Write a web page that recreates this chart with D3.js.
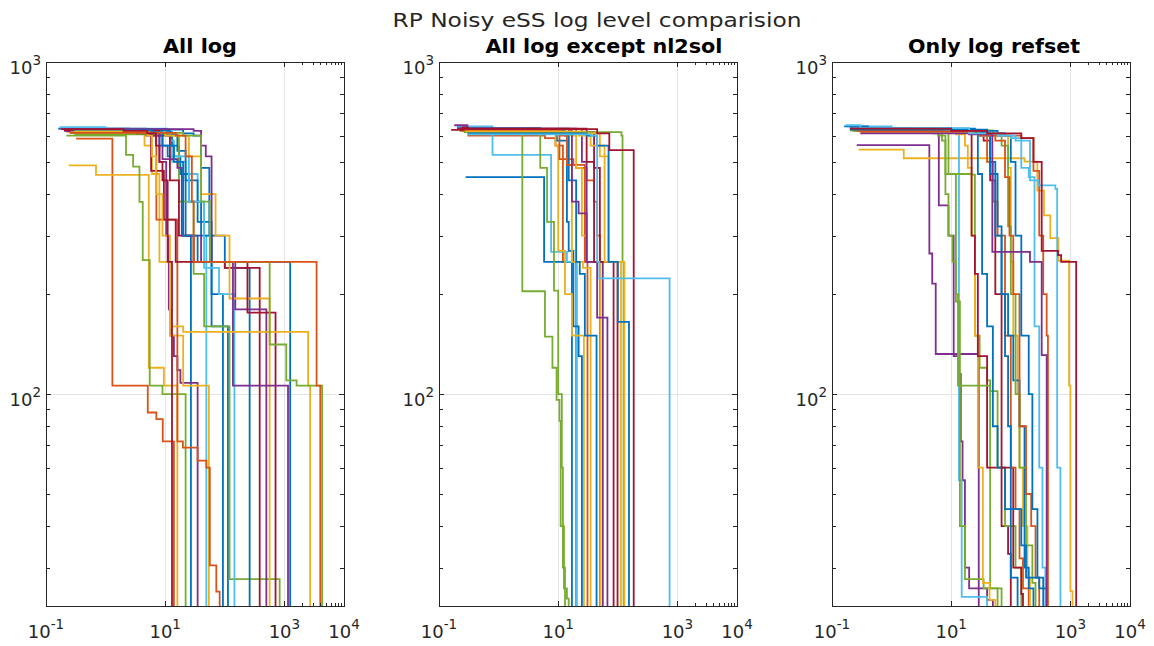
<!DOCTYPE html>
<html>
<head>
<meta charset="utf-8">
<script src="https://cdn.jsdelivr.net/npm/d3@7"></script>
<style>
  body { margin: 0; background: #fff; }
  text { font-family: "DejaVu Sans", Verdana, sans-serif; fill: #262626; }
</style>
</head>
<body>
<script>
// ---------------- data (time [s], objective value) ----------------
const mainTitle = "RP Noisy eSS log level comparision";
const panelTitles = ["All log", "All log except nl2sol", "Only log refset"];

const xMajorTicks = [0.1, 10, 1000, 10000];
const xMajorExp = ["-1", "1", "3", "4"];
const xMinorTicks = [2000, 3000, 4000, 5000, 6000, 7000, 8000, 9000];
const yMajorTicks = [100, 1000];
const yMajorExp = ["2", "3"];
const yMinorTicks = [30, 40, 50, 60, 70, 80, 90, 200, 300, 400, 500, 600, 700, 800, 900];
const xGrid = [10, 1000];
const yGrid = [100];

// c = colour index in the MATLAB colour order, pts = stair points [x, y]
const allLogSeries = [
  {c:1, pts:[[0.32,588],[1.3,106],[5.1,88],[7.1,84],[9.1,72],[14,10]]},
  {c:2, pts:[[0.24,488],[0.69,457],[5.3,120],[9.5,106],[16,10]]},
  {c:4, pts:[[0.22,600],[2.2,525],[2.9,484],[3.7,379],[4.2,253],[5.5,106],[9,100],[22,10]]},
  {c:0, pts:[[0.16,630],[2.5,625],[4.5,610],[8,560],[11,520],[18,460],[22,300],[27,10]]},
  {c:3, pts:[[0.17,630],[4.8,600],[8,500],[10.4,300],[11.5,180],[12.5,150],[14,130],[16,118],[18,108],[35,10]]},
  {c:5, pts:[[0.17,636],[1.0,630],[11,600],[13,501],[22,460],[35,380],[45,300],[49,10]]},
  {c:2, pts:[[0.2,622],[3,615],[4.5,560],[6,460],[8,250],[12,150],[20,106],[54,10]]},
  {c:1, pts:[[0.22,617],[7.1,335],[16,72],[19.8,69],[35,63],[49,60],[56,30.5],[72,25.4],[82,10]]},
  {c:0, pts:[[0.2,628],[10,615],[13,560],[17,460],[25,380],[40,300],[60,200],[93,10]]},
  {c:0, pts:[[0.25,624],[12,605],[16,540],[22,440],[35,330],[60,160],[113,10]]},
  {c:4, pts:[[0.3,605],[12,600],[17,380],[30,230],[45,160],[120,27.7],[833,10]]},
  {c:5, pts:[[0.2,625],[8,610],[12,580],[14,520],[25,380],[45,240],[80,200],[145,10]]},
  {c:0, pts:[[0.24,626],[20,610],[30,600],[40,480],[55,300],[100,240],[261,10]]},
  {c:6, pts:[[0.22,620],[8,600],[12,440],[17,300],[30,250],[100,240],[385,10]]},
  {c:3, pts:[[0.2,620],[6,600],[9,510],[16,480],[19,300],[40,250],[150,180],[498,10]]},
  {c:2, pts:[[0.26,615],[10,600],[25,520],[40,400],[70,300],[120,194],[566,10]]},
  {c:6, pts:[[0.2,624],[3.3,610],[5.8,470],[9.5,335],[15,250],[240,176],[710,10]]},
  {c:3, pts:[[0.19,628],[30,620],[40,560],[48,520],[60,250],[137,106],[1150,10]]},
  {c:0, pts:[[0.28,622],[6,615],[9,560],[14,500],[20,300],[35,250],[1250,10]]},
  {c:2, pts:[[0.3,618],[5,600],[6,520],[7,400],[9,300],[12,160],[20,154],[2500,106],[2700,10]]},
  {c:4, pts:[[0.25,612],[20,600],[40,380],[56,250],[566,141],[1075,110],[1600,106],[4300,10]]},
  {c:1, pts:[[0.25,612],[15,600],[22,520],[28,380],[30,250],[3470,106],[4000,10]]},
  {c:6, pts:[[0.18,628],[2,620],[5,610],[7,560],[8,500],[9,440],[11,250],[13,10]]}
];

const exceptNl2solSeries = [
  {c:1, pts:[[0.3,600],[6,590],[9,560],[12,250],[20,10]]},
  {c:0, pts:[[0.28,450],[5.8,250],[17,10]]},
  {c:5, pts:[[0.2,640],[0.79,525],[7.6,268],[14,250],[20.6,10]]},
  {c:4, pts:[[0.22,620],[2.5,204],[6,149],[8,120],[9.4,96],[10.5,83],[11,40],[12.5,26],[14,24.2],[15,10]]},
  {c:4, pts:[[0.25,625],[4,605],[5,480],[6.5,330],[8.5,205],[10,100],[11.5,60],[12,30],[13,10]]},
  {c:0, pts:[[0.2,632],[5,615],[9.5,580],[14,330],[15,270],[18,160],[22,130],[25,10]]},
  {c:2, pts:[[0.3,618],[8,610],[9,560],[10,270],[13,200],[17,150],[27,10]]},
  {c:1, pts:[[0.22,625],[3,615],[10.5,510],[18,490],[28,250],[31,10]]},
  {c:2, pts:[[0.24,628],[12,605],[15,490],[17,250],[26,240],[35,10]]},
  {c:0, pts:[[0.26,622],[13,600],[15,440],[20,250],[23,230],[28,150],[44,10]]},
  {c:1, pts:[[0.24,620],[10.8,600],[14,490],[20,480],[30,440],[40,380],[45,300],[50,10]]},
  {c:2, pts:[[0.28,615],[16,600],[20,480],[25,300],[30,250],[51,10]]},
  {c:3, pts:[[0.18,645],[0.3,630],[15,620],[17,380],[22,350],[30,250],[56,10]]},
  {c:3, pts:[[0.2,630],[20,610],[25,500],[30,250],[45,170],[67,10]]},
  {c:6, pts:[[0.16,625],[0.25,635],[0.3,628],[25,605],[30,500],[40,250],[85,10]]},
  {c:6, pts:[[0.22,630],[30,615],[40,480],[50,250],[99,10]]},
  {c:2, pts:[[0.3,612],[22,600],[35,560],[60,250],[113,10]]},
  {c:4, pts:[[0.26,615],[115,600],[120,250],[125,10]]},
  {c:2, pts:[[0.28,618],[28,610],[50,520],[70,250],[129,10]]},
  {c:0, pts:[[0.3,610],[30,600],[45,560],[70,250],[100,165],[154,10]]},
  {c:6, pts:[[0.25,628],[45,610],[72,543],[185,10]]},
  {c:5, pts:[[0.3,605],[35,600],[45,250],[49,223],[740,10]]}
];

const refsetSeries = [
  {c:3, pts:[[0.26,562],[4.3,265],[4.8,215],[5.5,132],[29,10]]},
  {c:2, pts:[[0.28,545],[1.6,513],[170,501],[279,410],[360,345],[460,295],[630,252],[950,106],[1000,25.5],[1085,10]]},
  {c:3, pts:[[0.2,632],[2,625],[6.2,370],[9,300],[11,130],[13.5,115],[14.5,72],[15.5,55],[17,30],[20,26],[40,24],[50,10]]},
  {c:5, pts:[[0.18,640],[1,630],[10,620],[13.5,55],[15,24.5],[40,10]]},
  {c:4, pts:[[0.2,628],[2,620],[5,610],[7,580],[8,400],[9,300],[10.5,250],[12,190],[14,40],[17,27.7],[35,26],[60,10]]},
  {c:4, pts:[[0.22,620],[3,615],[9,460],[22,458],[25,150],[30,120],[40,110],[45,26],[70,10]]},
  {c:2, pts:[[0.25,625],[5,615],[12,605],[17,560],[19,480],[22,300],[25,150],[28,60],[34,27],[44,24],[55,10]]},
  {c:6, pts:[[0.25,628],[15,620],[22,300],[25,230],[28,130],[40,60],[70,40],[90,33],[100,10]]},
  {c:4, pts:[[0.24,620],[6,600],[8,460],[12,200],[13,106],[45,102],[60,60],[80,40],[120,30],[150,10]]},
  {c:0, pts:[[0.16,640],[0.4,632],[10,620],[20,610],[28,460],[33,230],[40,160],[50,80],[60,60],[80,45],[100,28],[130,10]]},
  {c:6, pts:[[0.2,625],[30,605],[35,580],[45,440],[55,200],[70,60],[110,30],[150,25],[160,10]]},
  {c:1, pts:[[0.22,625],[20,610],[30,600],[40,500],[50,380],[60,300],[80,150],[100,60],[120,45],[140,32],[160,26],[200,10]]},
  {c:2, pts:[[0.3,612],[35,600],[90,480],[100,250],[110,150],[130,100],[140,60],[160,40],[190,28],[210,10]]},
  {c:0, pts:[[0.2,630],[25,615],[40,600],[45,500],[55,300],[70,200],[90,150],[110,110],[140,80],[170,30],[200,26],[240,10]]},
  {c:4, pts:[[0.2,622],[50,610],[70,560],[90,320],[100,200],[120,100],[140,60],[180,35],[230,27],[260,10]]},
  {c:1, pts:[[0.25,622],[40,610],[55,580],[80,450],[95,300],[110,200],[140,80],[180,50],[220,40],[260,28],[300,10]]},
  {c:0, pts:[[0.3,620],[60,610],[80,600],[100,500],[120,300],[150,150],[200,100],[230,45],[280,28],[350,10]]},
  {c:5, pts:[[0.22,630],[8,620],[30,600],[100,590],[150,480],[200,450],[250,160],[300,60],[340,30],[380,10]]},
  {c:0, pts:[[0.2,626],[40,612],[45,460],[60,320],[70,200],[80,130],[90,80],[100,45],[150,35],[180,28],[300,26],[400,10]]},
  {c:1, pts:[[0.28,618],[30,600],[150,590],[240,470],[300,300],[350,200],[400,150],[420,10]]},
  {c:3, pts:[[0.3,610],[20,605],[49,268],[210,250],[330,131],[400,10]]},
  {c:5, pts:[[0.17,645],[0.3,632],[20,610],[60,600],[120,580],[210,440],[290,425],[560,415],[600,60],[680,10]]},
  {c:6, pts:[[0.2,630],[10,620],[40,610],[150,590],[240,500],[330,270],[620,262],[700,250],[1250,10]]}
];

const panelSeries = [allLogSeries, exceptNl2solSeries, refsetSeries];

// ---------------- layout ----------------
const W = 1154, H = 646;
const colors = ["#0072BD", "#D95319", "#EDB120", "#7E2F8E", "#77AC30", "#4DBEEE", "#A2142F"];
const panelLeft = [46, 439, 832];
const pw = 298, axTop = 62, axBottom = 606;
const titleCenter = [200, 604, 994];
const titleWidth = [74, 237, 172];

const svg = d3.select("body").append("svg")
    .attr("width", W)
    .attr("height", H);

svg.append("text")
    .attr("x", 597)
    .attr("y", 27)
    .attr("text-anchor", "middle")
    .attr("font-size", 20)
    .attr("textLength", 409)
    .attr("lengthAdjust", "spacingAndGlyphs")
    .text(mainTitle);

const defs = svg.append("defs");

panelSeries.forEach((series, i) => {
  const left = panelLeft[i];
  const right = left + pw;

  const x = d3.scaleLog().domain([0.1, 10000]).range([left, right]);
  const y = d3.scaleLog().domain([23, 1000]).range([axBottom, axTop]);

  const g = svg.append("g");

  defs.append("clipPath").attr("id", "clip" + i)
    .append("rect")
      .attr("x", left).attr("y", axTop)
      .attr("width", pw).attr("height", axBottom - axTop);

  // grid
  g.append("g").selectAll("line")
    .data(xGrid)
    .enter().append("line")
      .attr("x1", d => x(d)).attr("x2", d => x(d))
      .attr("y1", axTop).attr("y2", axBottom)
      .attr("stroke", "#e4e4e4")
      .attr("shape-rendering", "crispEdges");
  g.append("g").selectAll("line")
    .data(yGrid)
    .enter().append("line")
      .attr("x1", left).attr("x2", right)
      .attr("y1", d => y(d)).attr("y2", d => y(d))
      .attr("stroke", "#e4e4e4")
      .attr("shape-rendering", "crispEdges");

  // stair lines
  const line = d3.line()
      .x(d => x(d[0]))
      .y(d => y(d[1]))
      .curve(d3.curveStepAfter);

  g.append("g")
      .attr("clip-path", "url(#clip" + i + ")")
    .selectAll("path")
    .data(series)
    .enter().append("path")
      .attr("d", d => line(d.pts))
      .attr("fill", "none")
      .attr("stroke", d => colors[d.c])
      .attr("stroke-width", 1.8);

  // axes (ticks pointing inwards, box on)
  const axes = [
    g.append("g").attr("transform", `translate(0,${axBottom})`)
      .call(d3.axisBottom(x).tickValues(xMajorTicks).tickSizeInner(-5).tickSizeOuter(0).tickFormat("")),
    g.append("g").attr("transform", `translate(0,${axTop})`)
      .call(d3.axisTop(x).tickValues(xMajorTicks).tickSizeInner(-5).tickSizeOuter(0).tickFormat("")),
    g.append("g").attr("transform", `translate(${left},0)`)
      .call(d3.axisLeft(y).tickValues(yMajorTicks).tickSizeInner(-5).tickSizeOuter(0).tickFormat("")),
    g.append("g").attr("transform", `translate(${right},0)`)
      .call(d3.axisRight(y).tickValues(yMajorTicks).tickSizeInner(-5).tickSizeOuter(0).tickFormat("")),
    g.append("g").attr("transform", `translate(0,${axBottom})`)
      .call(d3.axisBottom(x).tickValues(xMinorTicks).tickSizeInner(-3).tickSizeOuter(0).tickFormat("")),
    g.append("g").attr("transform", `translate(0,${axTop})`)
      .call(d3.axisTop(x).tickValues(xMinorTicks).tickSizeInner(-3).tickSizeOuter(0).tickFormat("")),
    g.append("g").attr("transform", `translate(${left},0)`)
      .call(d3.axisLeft(y).tickValues(yMinorTicks).tickSizeInner(-4).tickSizeOuter(0).tickFormat("")),
    g.append("g").attr("transform", `translate(${right},0)`)
      .call(d3.axisRight(y).tickValues(yMinorTicks).tickSizeInner(-4).tickSizeOuter(0).tickFormat(""))
  ];
  axes.forEach(a => {
    a.attr("color", "#262626");
    a.selectAll("path, line").attr("shape-rendering", "crispEdges");
  });

  // tick labels as 10^n
  const xl = g.append("g").selectAll("text")
    .data(xMajorTicks)
    .enter().append("text")
      .attr("x", d => x(d))
      .attr("y", axBottom + 32)
      .attr("text-anchor", "middle")
      .attr("font-size", 18);
  xl.append("tspan").text("10");
  xl.append("tspan").attr("dy", -9).attr("font-size", 13.5).text((d, j) => xMajorExp[j]);

  const yl = g.append("g").selectAll("text")
    .data(yMajorTicks)
    .enter().append("text")
      .attr("x", left - 5)
      .attr("y", d => y(d) + 11.5)
      .attr("text-anchor", "end")
      .attr("font-size", 18);
  yl.append("tspan").text("10");
  yl.append("tspan").attr("dy", -9).attr("font-size", 13.5).text((d, j) => yMajorExp[j]);

  // panel title
  g.append("text")
      .attr("x", titleCenter[i])
      .attr("y", 53)
      .attr("text-anchor", "middle")
      .attr("font-size", 19)
      .attr("font-weight", "bold")
      .attr("textLength", titleWidth[i])
      .attr("lengthAdjust", "spacingAndGlyphs")
      .style("fill", "#000")
      .text(panelTitles[i]);
});
</script>
</body>
</html>
